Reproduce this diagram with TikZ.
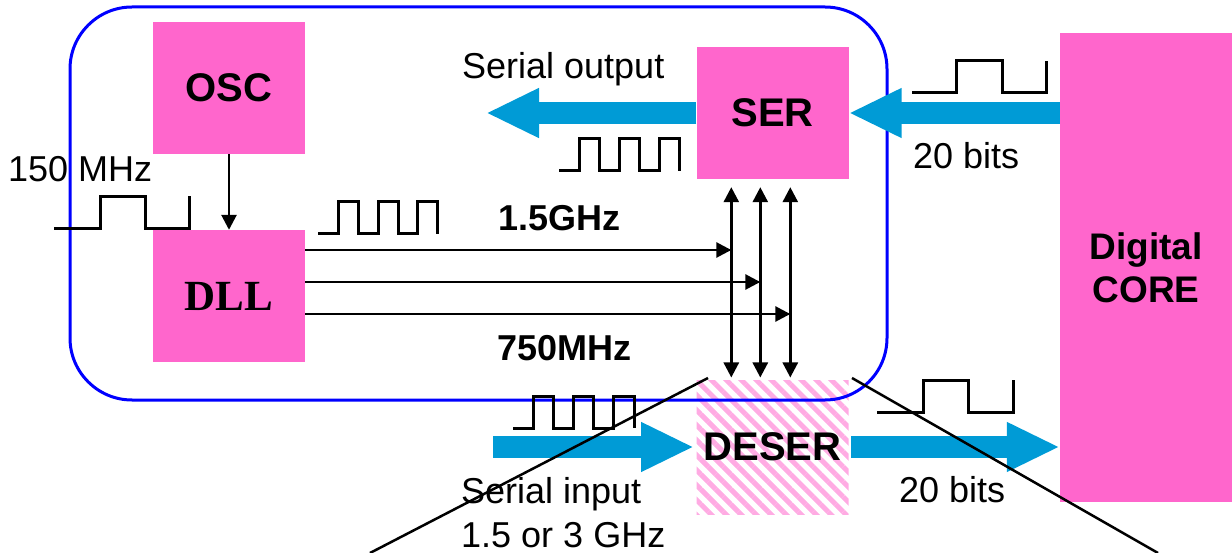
\documentclass[tikz,border=0pt]{standalone}
\usepackage{fontspec}
\setmainfont{Liberation Sans}
\newfontfamily\dllfont{Liberation Serif}
\usepackage{tikz}
\usetikzlibrary{calc,arrows.meta,patterns.meta}
\definecolor{pinkx}{HTML}{FF66CC}
\definecolor{bluex}{HTML}{009BD6}
\definecolor{framex}{HTML}{0000FF}
\tikzset{
  blk/.style={fill=pinkx,inner sep=0pt,minimum width=152pt,minimum height=132pt,font=\fontsize{40}{44}\selectfont\bfseries},
  ar/.style={-{Triangle[length=15pt,width=15pt]},line width=2.7pt},
  dar/.style={{Triangle[length=15pt,width=15pt]}-{Triangle[length=15pt,width=15pt]},line width=2.7pt},
  bigar/.style={-{Triangle[length=53pt,width=46pt]},line width=22pt,bluex},
  wave/.style={line width=3pt},
  lbl/.style={font=\fontsize{36}{44}\selectfont,inner sep=0pt,anchor=base west}
}

\begin{document}
\begin{tikzpicture}[x=1pt,y=-1pt]
\useasboundingbox (0,0) rectangle (1232,553);
% blocks
\node[blk] (osc) at (229,88) {OSC};
\node[blk,font=\fontsize{43}{48}\selectfont\dllfont\bfseries] (dll) at (229,296) {DLL};
\node[blk] (ser) at (772.5,113) {SER};
\node[blk,fill=none,minimum height=134pt,pattern={Lines[angle=-45,distance=10.6pt,line width=5pt]},pattern color=pinkx!55] (deser) at (772.5,447) {DESER};
\node[blk,minimum width=172pt,minimum height=469pt,align=center,font=\fontsize{37}{43}\selectfont\bfseries] (core) at (1146,267.5) {Digital\\CORE};
\draw[framex,line width=3pt,rounded corners=62pt] (70,7) rectangle (887,400);
% clock lines
\draw[ar] (osc) -- (dll);
\foreach \i/\dx/\dy in {1/35/-46,2/64/-14,3/94/18}{
  \coordinate (bus\i) at ($(ser.south west)+(\dx,0)$);
  \coordinate (out\i) at ($(dll.east)+(0,\dy)$);
  \draw[ar] (out\i) -- (out\i -| bus\i);
  \draw[dar] ($(bus\i)+(0,8)$) -- (bus\i |- deser.north);
}
% data paths
\coordinate (sout) at (486,113);
\coordinate (sin) at (493,447);
\draw[bigar] (ser.west) -- (sout);
\draw[bigar] (ser.east -| core.west) -- (ser.east);
\draw[bigar] (sin) -- (deser.west);
\draw[bigar] (deser.east) -- (deser.east -| core.west);
% waveforms
\draw[wave] (54,229) -| (100,197) -| (145,229) -| (189,196);
\draw[wave] (318,234) -| (338,202) -| (358,234) -| (378,202) -| (398,234) -| (417,202) -| (437,234);
\draw[wave] (559,171) -| (579,139) -| (599,171) -| (619,139) -| (639,171) -| (659,139) -| (679,171);
\draw[wave] (912,93) -| (956,61) -| (1002,93) -| (1046,61);
\draw[wave] (513,428) -| (533,396) -| (553,428) -| (573,396) -| (593,428) -| (613,396) -| (634,428);
\draw[wave] (877,412) -| (923,380) -| (968,412) -| (1013,380);
% labels
\node[lbl] (lout) at (462,79) {Serial output};
\node[lbl] (lclk) at (8,182) {150 MHz};
\node[lbl] (lbitsa) at (913,169) {20 bits};
\node[lbl] (lbitsb) at (899,502) {20 bits};
\node[lbl,font=\fontsize{36}{44}\selectfont\bfseries] (lfast) at (498,231) {1.5GHz};
\node[lbl,font=\fontsize{36}{44}\selectfont\bfseries] (lslow) at (497,361) {750MHz};
\node[lbl,align=left] (lin) at (461,547) {Serial input\\1.5 or 3 GHz};
% zoom lines
\draw[line width=2.5pt] (708,378) -- (370,553);
\draw[line width=2.5pt] (852,378) -- (1158,553);
\end{tikzpicture}
\end{document}
